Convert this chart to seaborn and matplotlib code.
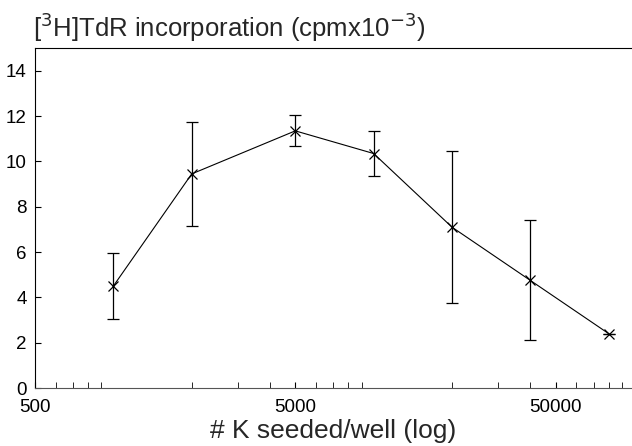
import numpy as np
import pandas as pd
import matplotlib
matplotlib.use("Agg")
import matplotlib.pyplot as plt
from matplotlib.ticker import LogLocator, FixedLocator, NullFormatter
import seaborn as sns

# cells seeded per well and thymidine incorporation (cpm x 10^-3)
cells = [1000, 2000, 5000, 10000, 20000, 40000, 80000]
cpm = [4.5, 9.45, 11.35, 10.35, 7.1, 4.75, 2.4]
sd = [1.45, 2.3, 0.68, 1.0, 3.35, 2.65, 0.0]
xticks = [500, 5000, 50000]
yticks = [0, 2, 4, 6, 8, 10, 12, 14]


def makePlot():
    sns.set_style("ticks")
    plt.rcParams['font.family'] = ['Liberation Sans', 'DejaVu Sans']

    frame = pd.DataFrame({"cells": cells, "cpm": cpm, "sd": sd})

    fig = plt.figure(figsize=(6.32, 4.46), dpi=100)
    ax = fig.add_axes([0.0554, 0.130, 0.944, 0.762])

    ax.errorbar(frame["cells"], frame["cpm"], yerr=frame["sd"], fmt='none',
                ecolor='black', elinewidth=0.9, capsize=4, capthick=0.9)
    sns.lineplot(x="cells", y="cpm", data=frame, color='black', linewidth=0.8,
                 marker='x', markersize=7, markeredgecolor='black',
                 markeredgewidth=0.9, ax=ax)

    ax.set_xscale('log')
    ax.set_xlim(500, 98000)
    ax.set_ylim(0, 15)
    ax.xaxis.set_major_locator(FixedLocator(xticks))
    ax.set_xticklabels([str(t) for t in xticks])
    ax.xaxis.set_minor_locator(LogLocator(base=10, subs=np.arange(2, 10)))
    ax.xaxis.set_minor_formatter(NullFormatter())
    ax.set_yticks(yticks)
    ax.set_yticklabels([str(t) for t in yticks])

    ax.tick_params(axis='both', which='major', direction='in', length=4,
                   width=0.8, labelsize=13.5, colors='black')
    ax.tick_params(axis='x', which='minor', direction='in', length=4, width=0.7)
    ax.tick_params(axis='x', which='major', pad=8)
    ax.tick_params(axis='y', which='major', pad=6)

    ax.spines['right'].set_visible(False)
    ax.spines['top'].set_visible(True)
    for side in ['left', 'top', 'bottom']:
        ax.spines[side].set_linewidth(0.8)
        ax.spines[side].set_color('black')
    ax.spines['bottom'].set_color('#555555')

    ax.set_xlabel("# K seeded/well (log)", fontsize=19, labelpad=2)
    ax.set_ylabel("")
    fig.text(0.052, 0.94, r"[$^{3}$H]TdR incorporation (cpmx10$^{-3}$)",
             fontsize=18.5, ha='left', va='center')

    fig.savefig("out.png", dpi=100, facecolor='white')


def main():
    makePlot()


if __name__ == "__main__":
    main()
